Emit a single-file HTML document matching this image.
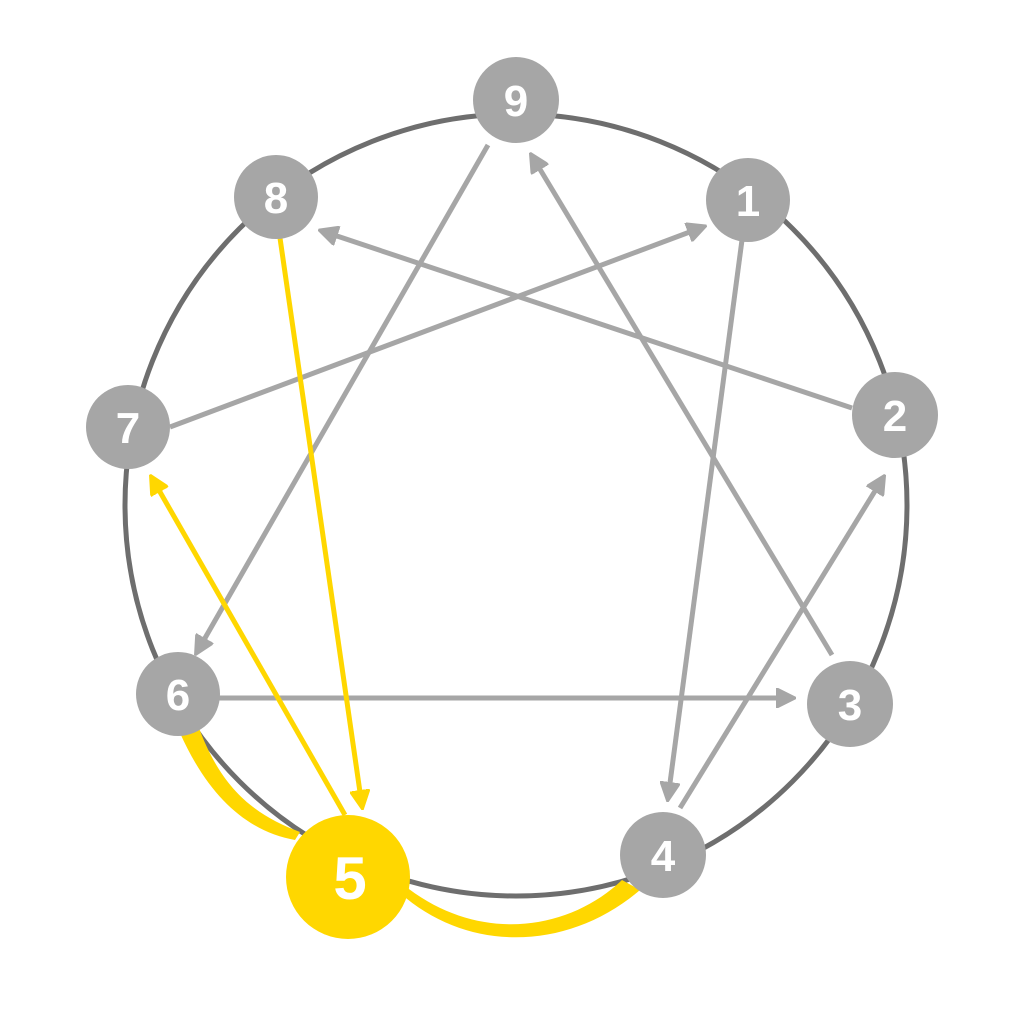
<!DOCTYPE html>
<html><head><style>body{margin:0;background:#fff}svg{display:block}</style></head><body>
<svg width="1024" height="1024" viewBox="0 0 1024 1024" xmlns="http://www.w3.org/2000/svg">
<defs>
<marker id="ag" viewBox="0 0 10 10" refX="8" refY="5" markerWidth="4" markerHeight="4" orient="auto"><path d="M0,0 L10,5 L0,10 z" fill="#a6a6a6" stroke="#a6a6a6" stroke-linejoin="round"/></marker>
<marker id="ay" viewBox="0 0 10 10" refX="8" refY="5" markerWidth="4" markerHeight="4" orient="auto"><path d="M0,0 L10,5 L0,10 z" fill="#ffd700" stroke="#ffd700" stroke-linejoin="round"/></marker>
</defs>
<circle cx="516" cy="505" r="391" fill="none" stroke="#6e6e6e" stroke-width="5"/>
<g stroke="#a6a6a6" stroke-width="5" fill="none">
<line x1="488" y1="145" x2="197" y2="652" marker-end="url(#ag)"/>
<line x1="832" y1="655" x2="532" y2="156" marker-end="url(#ag)"/>
<line x1="852" y1="408" x2="322" y2="231" marker-end="url(#ag)"/>
<line x1="170" y1="427" x2="703" y2="227" marker-end="url(#ag)"/>
<line x1="742" y1="240" x2="668" y2="798" marker-end="url(#ag)"/>
<line x1="680" y1="808" x2="883" y2="478" marker-end="url(#ag)"/>
<line x1="215" y1="698" x2="792" y2="698" marker-end="url(#ag)"/>
</g>
<g stroke="#ffd700" stroke-width="5" fill="none">
<line x1="280" y1="238" x2="362" y2="806" marker-end="url(#ay)"/>
<line x1="345" y1="815" x2="152" y2="478" marker-end="url(#ay)"/>
</g>
<path d="M180,733 C210,800 250,832 295,840 L300,832 C255,815 222,790 199,728 Z" fill="#ffd700"/>
<path d="M400,893 C470,955 570,950 640,890 L622,880 C570,930 480,945 405,886 Z" fill="#ffd700"/>
<g fill="#a6a6a6">
<circle cx="516" cy="100" r="43"/><circle cx="276" cy="197" r="42"/><circle cx="748" cy="200" r="42"/>
<circle cx="128" cy="427" r="42"/><circle cx="895" cy="415" r="43"/><circle cx="178" cy="694" r="42"/>
<circle cx="850" cy="704" r="43"/><circle cx="663" cy="855" r="43"/>
</g>
<circle cx="348" cy="877" r="62" fill="#ffd700"/>
<g fill="#fff" font-family="Liberation Sans, sans-serif" font-weight="bold" font-size="44" text-anchor="middle">
<text x="516" y="116">9</text><text x="276" y="213">8</text><text x="748" y="216">1</text>
<text x="128" y="443">7</text><text x="895" y="431">2</text><text x="178" y="710">6</text>
<text x="850" y="720">3</text><text x="663" y="871">4</text>
<text x="350" y="899" font-size="60">5</text>
</g>
</svg>
</body></html>
